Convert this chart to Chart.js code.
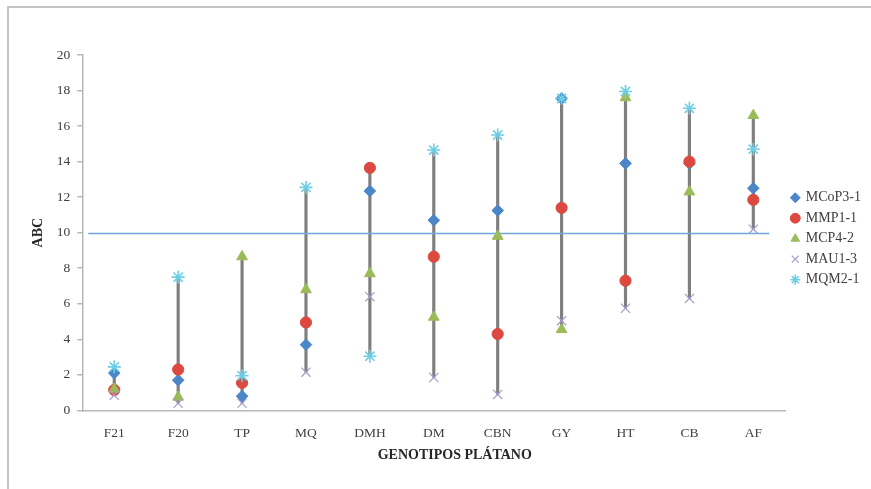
<!DOCTYPE html>
<html>
<head>
<meta charset="utf-8">
<script src="https://cdn.jsdelivr.net/npm/chart.js@4"></script>
<style>
    html, body { margin: 0; padding: 0; background: #fff; }
    #wrap { position: relative; width: 871px; height: 489px; }
    #frame { position: absolute; left: 7px; top: 6px; right: 0; bottom: 0; border-top: 2px solid #c4c4c4; border-left: 2px solid #c4c4c4; }
    #abc { position: absolute; left: 0; top: 0; }
</style>
</head>
<body>
<div id="wrap">
    <div id="frame"></div>
    <canvas id="abc" width="871" height="489"></canvas>
</div>
<script>
// Genotipos de plátano (eje X)
const genotipos = ['F21', 'F20', 'TP', 'MQ', 'DMH', 'DM', 'CBN', 'GY', 'HT', 'CB', 'AF'];

// ABC por aislado
const mcop3 = [2.1, 1.7, 0.8, 3.7, 12.35, 10.7, 11.25, 17.55, 13.9, 13.9, 12.5];
const mmp1 = [1.15, 2.3, 1.55, 4.95, 13.65, 8.65, 4.3, 11.4, 7.3, 14.0, 11.85];
const mcp4 = [1.2, 0.75, 8.65, 6.8, 7.7, 5.25, 9.8, 4.55, 17.6, 12.3, 16.6];
const mau1 = [0.85, 0.4, 0.4, 2.15, 6.4, 1.85, 0.9, 5.05, 5.75, 6.3, 10.2];
const mqm2 = [2.45, 7.5, 1.95, 12.55, 3.05, 14.65, 15.5, 17.55, 17.95, 17.0, 14.7];

// línea de referencia (promedio)
const promedio = 9.95;

const yTicksMin = 0;
const yTicksMax = 20;
const yTicksStep = 2;

const serieList = [mcop3, mmp1, mcp4, mau1, mqm2];
const rangos = genotipos.map((g, i) => {
    const vals = serieList.map(s => s[i]);
    return [Math.min(...vals), Math.max(...vals)];
});

const serif = "'Liberation Serif', 'DejaVu Serif', serif";

const meanLinePlugin = {
    id: 'meanLine',
    afterDatasetDraw: function (chart, args) {
        if (args.index !== 5) return;
        const { ctx, chartArea, scales } = chart;
        const y = scales.y.getPixelForValue(promedio);
        ctx.save();
        ctx.strokeStyle = '#6fa6dc';
        ctx.lineWidth = 1.5;
        ctx.beginPath();
        ctx.moveTo(chartArea.left + 6, y);
        ctx.lineTo(chartArea.right - 16, y);
        ctx.stroke();
        ctx.restore();
    }
};

// las series posteriores se dibujan encima (como en Excel)
function serie(label, data, style, color, radius, order, border) {
    return {
        type: 'line',
        label: label,
        data: data,
        showLine: false,
        pointStyle: style,
        pointRadius: radius,
        pointHoverRadius: radius,
        backgroundColor: color,
        borderColor: color,
        pointBorderWidth: border,
        borderWidth: border,
        order: order
    };
}

const ctx = document.getElementById('abc').getContext('2d');
new Chart(ctx, {
    data: {
        labels: genotipos,
        datasets: [
            serie('MCoP3-1', mcop3, 'rectRot', '#4a86c8', 5.8, 5, 1),
            serie('MMP1-1', mmp1, 'circle', '#dc4a3f', 5.6, 4, 1),
            serie('MCP4-2', mcp4, 'triangle', '#9bbb59', 6.2, 3, 1),
            serie('MAU1-3', mau1, 'crossRot', '#a69ccb', 6.5, 2, 1.2),
            serie('MQM2-1', mqm2, 'star', '#6ccde6', 6.5, 1, 1.6),
            {
                type: 'bar',
                label: 'rango',
                data: rangos,
                backgroundColor: '#7f7f7f',
                borderWidth: 0,
                barThickness: 2.5,
                order: 6
            }
        ]
    },
    options: {
        responsive: false,
        animation: false,
        layout: { padding: { left: 26, top: 55, right: 0, bottom: 21.6 } },
        plugins: {
            tooltip: { enabled: false },
            legend: {
                position: 'right',
                fullSize: false,
                title: { display: true, text: '', padding: 0, font: { size: 10 } },
                labels: {
                    filter: item => item.text !== 'rango',
                    sort: (a, b) => a.datasetIndex - b.datasetIndex,
                    usePointStyle: true,
                    boxWidth: 7,
                    boxHeight: 7,
                    padding: 6.5,
                    color: '#404040',
                    font: { family: serif, size: 14 }
                }
            }
        },
        scales: {
            x: {
                grid: { display: false, drawTicks: false },
                border: { display: true, color: '#b8b8b8', width: 1.5 },
                ticks: { color: '#404040', padding: 15, font: { family: serif, size: 13.5 } },
                title: {
                    display: true,
                    text: '            GENOTIPOS PLÁTANO',
                    color: '#262626',
                    padding: { top: -10, bottom: 4 },
                    font: { family: serif, size: 14, weight: 'bold' }
                }
            },
            y: {
                min: yTicksMin,
                max: yTicksMax,
                grid: { drawOnChartArea: false, drawTicks: true, tickLength: 5, color: '#b8b8b8', lineWidth: 1.5 },
                border: { display: true, color: '#b8b8b8', width: 1.5 },
                ticks: { stepSize: yTicksStep, color: '#404040', padding: 7, font: { family: serif, size: 13.5 } },
                title: {
                    display: true,
                    text: 'ABC',
                    color: '#262626',
                    padding: { top: 4, bottom: 3 },
                    font: { family: serif, size: 14, weight: 'bold' }
                }
            }
        }
    },
    plugins: [meanLinePlugin]
});
</script>
</body>
</html>
